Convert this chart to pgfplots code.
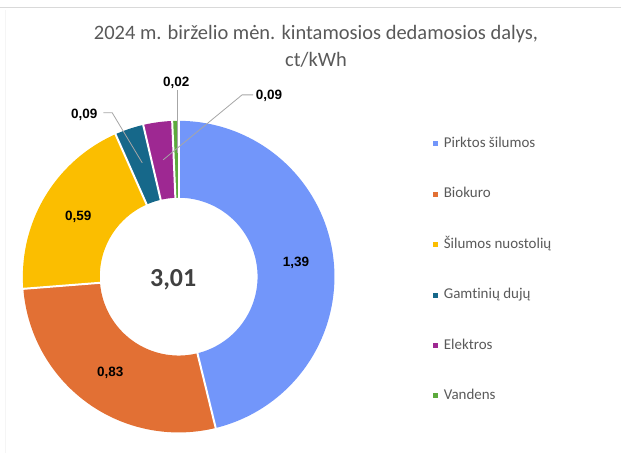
\documentclass[border=0pt]{standalone}
\usepackage{pgfplots}
\pgfplotsset{compat=1.18}
\usepackage{pgfplotstable}
\usepackage{fontspec}
\setmainfont{Carlito}[Ligatures=NoCommon]
\newfontfamily\arialfont{Liberation Sans}

\definecolor{cBlue}{RGB}{114,150,250}
\definecolor{cOrange}{RGB}{226,112,52}
\definecolor{cYellow}{RGB}{251,190,0}
\definecolor{cTeal}{RGB}{22,104,138}
\definecolor{cPurple}{RGB}{158,40,146}
\definecolor{cGreen}{RGB}{92,170,60}
\definecolor{titlegray}{RGB}{89,89,89}
\definecolor{centergray}{RGB}{64,64,64}
\definecolor{leadergray}{RGB}{166,166,166}

\pgfplotstableread{
value
1.39
0.83
0.59
0.09
0.09
0.02
}\datatable

\pgfplotstablegetelem{0}{value}\of\datatable \let\vA\pgfplotsretval
\pgfplotstablegetelem{1}{value}\of\datatable \let\vB\pgfplotsretval
\pgfplotstablegetelem{2}{value}\of\datatable \let\vC\pgfplotsretval
\pgfplotstablegetelem{3}{value}\of\datatable \let\vD\pgfplotsretval
\pgfplotstablegetelem{4}{value}\of\datatable \let\vE\pgfplotsretval
\pgfplotstablegetelem{5}{value}\of\datatable \let\vF\pgfplotsretval
\pgfmathsetmacro\tot{\vA+\vB+\vC+\vD+\vE+\vF}
\pgfmathsetmacro\bA{90}
\pgfmathsetmacro\bB{\bA-360*\vA/\tot}
\pgfmathsetmacro\bC{\bB-360*\vB/\tot}
\pgfmathsetmacro\bD{\bC-360*\vC/\tot}
\pgfmathsetmacro\bE{\bD-360*\vD/\tot}
\pgfmathsetmacro\bF{\bE-360*\vE/\tot}
\pgfmathsetmacro\bG{\bF-360*\vF/\tot}
\def\cx{178.5}
\def\cy{177}
\def\rmid{117.5}

\begin{document}
\begin{tikzpicture}
\begin{axis}[
  x=1pt, y=1pt, xmin=0, xmax=621, ymin=0, ymax=454,
  hide axis, clip=false,
  legend image code/.code={\fill[#1] (0pt,-2.5pt) rectangle (5pt,2.5pt);},
  legend cell align=left,
  legend style={draw=none, fill=none, inner sep=0pt, outer sep=0pt,
    at={(axis cs:433,317.5)}, anchor=north west,
    font=\fontsize{15}{18}\selectfont, text=titlegray,
    row sep=35.5pt, column sep=6pt,
    nodes={inner sep=0pt, text height=11pt, text depth=4pt}},
]
\path (axis cs:0,0) rectangle (axis cs:621,454);
% donut segments
\addplot[forget plot, cBlue,   line width=77pt, domain=\bB:\bA, samples=120, variable=\t] ({\cx+\rmid*cos(\t)},{\cy+\rmid*sin(\t)});
\addplot[forget plot, cOrange, line width=77pt, domain=\bC:\bB, samples=80, variable=\t] ({\cx+\rmid*cos(\t)},{\cy+\rmid*sin(\t)});
\addplot[forget plot, cYellow, line width=77pt, domain=\bD:\bC, samples=60, variable=\t] ({\cx+\rmid*cos(\t)},{\cy+\rmid*sin(\t)});
\addplot[forget plot, cTeal,   line width=77pt, domain=\bE:\bD, samples=12, variable=\t] ({\cx+\rmid*cos(\t)},{\cy+\rmid*sin(\t)});
\addplot[forget plot, cPurple, line width=77pt, domain=\bF:\bE, samples=12, variable=\t] ({\cx+\rmid*cos(\t)},{\cy+\rmid*sin(\t)});
\addplot[forget plot, cGreen,  line width=77pt, domain=\bG:\bF, samples=6, variable=\t] ({\cx+\rmid*cos(\t)},{\cy+\rmid*sin(\t)});
% white separators
\pgfplotsinvokeforeach{\bA,\bB,\bC,\bD,\bE,\bF}{
  \addplot[forget plot, white, line width=2pt, domain=77:158, samples=2, variable=\r] ({\cx+\r*cos(#1)},{\cy+\r*sin(#1)});
}
% legend
\addlegendimage{fill=cBlue, draw=none}\addlegendentry{Pirktos šilumos}
\addlegendimage{fill=cOrange, draw=none}\addlegendentry{Biokuro}
\addlegendimage{fill=cYellow, draw=none}\addlegendentry{Šilumos nuostolių}
\addlegendimage{fill=cTeal, draw=none}\addlegendentry{Gamtinių dujų}
\addlegendimage{fill=cPurple, draw=none}\addlegendentry{Elektros}
\addlegendimage{fill=cGreen, draw=none}\addlegendentry{Vandens}
% leader lines
\draw[leadergray, line width=0.8pt] (axis cs:103,341) -- (axis cs:112,341) -- (axis cs:142,291);
\draw[leadergray, line width=0.8pt] (axis cs:253,359) -- (axis cs:242,359) -- (axis cs:163,294);
\draw[leadergray, line width=0.8pt] (axis cs:177,364) -- (axis cs:177,301);
% data labels
\tikzset{dl/.style={font=\arialfont\bfseries\fontsize{13.5}{16}\selectfont, text=black, inner sep=1pt}}
\node[dl] at (axis cs:296,191) {1,39};
\node[dl] at (axis cs:110,81) {0,83};
\node[dl] at (axis cs:78,237) {0,59};
\node[dl] at (axis cs:84,339) {0,09};
\node[dl] at (axis cs:176,371) {0,02};
\node[dl] at (axis cs:269,358) {0,09};
\node[font=\bfseries\fontsize{26}{30}\selectfont, text=centergray] at (axis cs:173,174) {3,01};
% title
\node[font=\fontsize{20.5}{27}\selectfont, text=titlegray, align=center] at (axis cs:316,407.5) {2024 m. birželio mėn. kintamosios dedamosios dalys,\\ct/kWh};
% frame lines of the screenshot
\draw[gray!30, line width=0.8pt] (axis cs:0,447) -- (axis cs:621,447);
\draw[gray!8, line width=0.8pt] (axis cs:5,444) -- (axis cs:5,0);
\end{axis}
\end{tikzpicture}
\end{document}
